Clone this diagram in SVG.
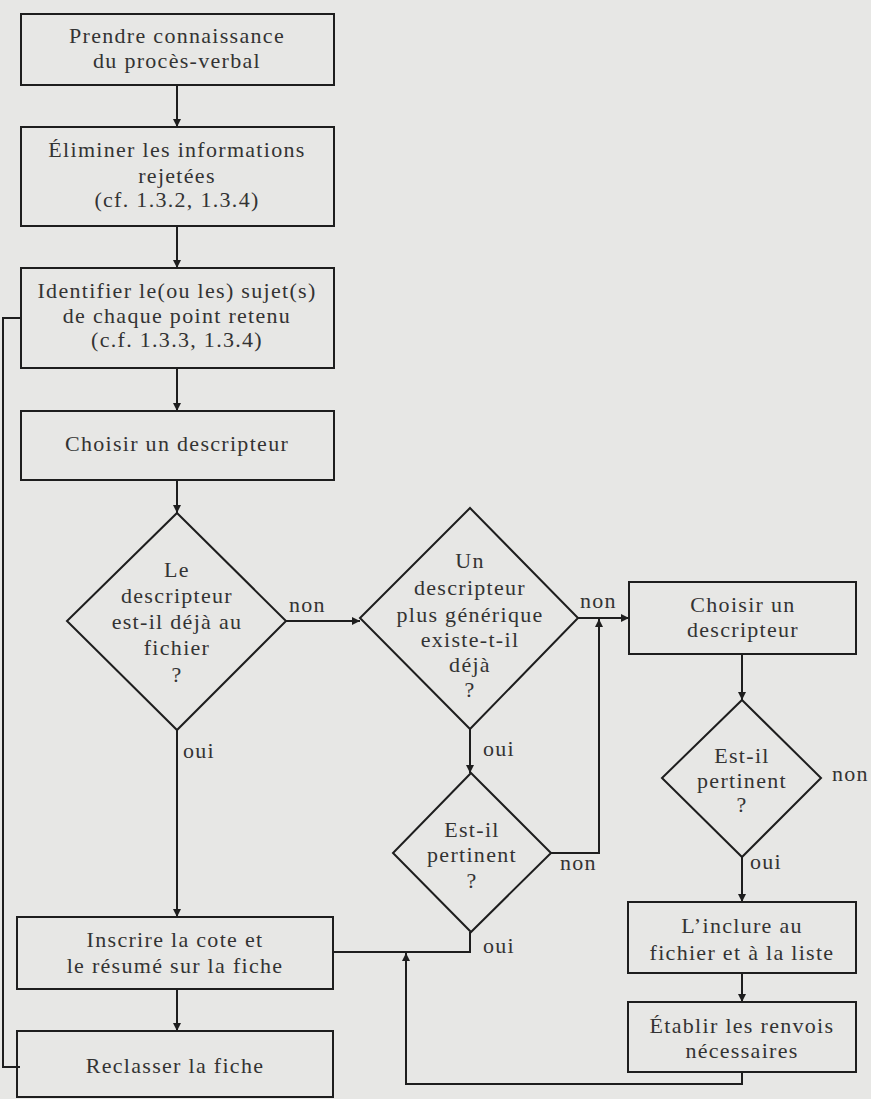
<svg xmlns="http://www.w3.org/2000/svg" width="871" height="1099" viewBox="0 0 871 1099" font-family="'Liberation Serif', 'Times New Roman', serif">
<defs>
<style>
.bg{fill:#e7e7e5}
.box{fill:none;stroke:#1e1e1e;stroke-width:2}
.con{fill:none;stroke:#1e1e1e;stroke-width:2}
text{font-family:'Liberation Serif','Times New Roman',serif;font-size:22px;fill:#333;letter-spacing:1.3px}
.c{text-anchor:middle}
</style>
<marker id="ah" viewBox="0 0 10 10" refX="10" refY="5" markerWidth="9" markerHeight="8" markerUnits="userSpaceOnUse" orient="auto">
<path d="M0,0 L10,5 L0,10 z" fill="#1e1e1e"/>
</marker>
</defs>
<rect class="bg" x="0" y="0" width="871" height="1099"/>
<g id="connectors">
<path class="con" d="M177 85 V127" marker-end="url(#ah)"/>
<path class="con" d="M177 226 V268" marker-end="url(#ah)"/>
<path class="con" d="M177 368 V411" marker-end="url(#ah)"/>
<path class="con" d="M177 480 V513" marker-end="url(#ah)"/>
<path class="con" d="M177 730 V917" marker-end="url(#ah)"/>
<path class="con" d="M177 989 V1031" marker-end="url(#ah)"/>
<path class="con" d="M20 318 H3 V1067 H20"/>
<path class="con" d="M286 621 H360" marker-end="url(#ah)"/>
<path class="con" d="M578 618 H629" marker-end="url(#ah)"/>
<path class="con" d="M470 729 V773" marker-end="url(#ah)"/>
<path class="con" d="M551 853 H599 V619" marker-end="url(#ah)"/>
<path class="con" d="M470 932 V952 H333"/>
<path class="con" d="M742 654 V700" marker-end="url(#ah)"/>
<path class="con" d="M742 857 V902" marker-end="url(#ah)"/>
<path class="con" d="M742 973 V1002" marker-end="url(#ah)"/>
<path class="con" d="M742 1072 V1084 H406 V953" marker-end="url(#ah)"/>
<text x="289" y="612">non</text>
<text x="183" y="758">oui</text>
<text x="580" y="608">non</text>
<text x="483" y="756">oui</text>
<text x="560" y="870">non</text>
<text x="483" y="953">oui</text>
<text x="832" y="781">non</text>
<text x="750" y="869">oui</text>
</g>
<g id="n1">
<rect class="box" x="21" y="14" width="313" height="71"/>
<text class="c" x="177" y="43">Prendre connaissance</text>
<text class="c" x="177" y="68">du procès-verbal</text>
</g>
<g id="n2">
<rect class="box" x="21" y="127" width="313" height="99"/>
<text class="c" x="177" y="157">Éliminer les informations</text>
<text class="c" x="177" y="183">rejetées</text>
<text class="c" x="177" y="207">(cf. 1.3.2, 1.3.4)</text>
</g>
<g id="n3">
<rect class="box" x="21" y="268" width="313" height="100"/>
<text class="c" x="177" y="298">Identifier le(ou les) sujet(s)</text>
<text class="c" x="177" y="323">de chaque point retenu</text>
<text class="c" x="177" y="347">(c.f. 1.3.3, 1.3.4)</text>
</g>
<g id="n4">
<rect class="box" x="21" y="411" width="313" height="69"/>
<text class="c" x="177" y="451">Choisir un descripteur</text>
</g>
<g id="d1">
<polygon class="box" points="177,513 286,621 177,730 67,621"/>
<text class="c" x="177" y="577">Le</text>
<text class="c" x="177" y="603">descripteur</text>
<text class="c" x="177" y="629">est-il déjà au</text>
<text class="c" x="177" y="655">fichier</text>
<text class="c" x="177" y="682">?</text>
</g>
<g id="d2">
<polygon class="box" points="470,508 578,618 470,729 360,618"/>
<text class="c" x="470" y="568">Un</text>
<text class="c" x="470" y="595">descripteur</text>
<text class="c" x="470" y="622">plus générique</text>
<text class="c" x="470" y="647">existe-t-il</text>
<text class="c" x="470" y="672">déjà</text>
<text class="c" x="470" y="697">?</text>
</g>
<g id="d3">
<polygon class="box" points="471,773 551,853 471,932 393,853"/>
<text class="c" x="472" y="837">Est-il</text>
<text class="c" x="472" y="862">pertinent</text>
<text class="c" x="472" y="888">?</text>
</g>
<g id="n5">
<rect class="box" x="629" y="582" width="227" height="72"/>
<text class="c" x="743" y="612">Choisir un</text>
<text class="c" x="743" y="637">descripteur</text>
</g>
<g id="d4">
<polygon class="box" points="742,700 821,778 742,857 662,778"/>
<text class="c" x="742" y="763">Est-il</text>
<text class="c" x="742" y="788">pertinent</text>
<text class="c" x="742" y="812">?</text>
</g>
<g id="n6">
<rect class="box" x="628" y="902" width="228" height="71"/>
<text class="c" x="742" y="933">L’inclure au</text>
<text class="c" x="742" y="960">fichier et à la liste</text>
</g>
<g id="n7">
<rect class="box" x="628" y="1002" width="228" height="70"/>
<text class="c" x="742" y="1033">Établir les renvois</text>
<text class="c" x="742" y="1058">nécessaires</text>
</g>
<g id="n8">
<rect class="box" x="17" y="917" width="316" height="72"/>
<text class="c" x="175" y="947">Inscrire la cote et</text>
<text class="c" x="175" y="973">le résumé sur la fiche</text>
</g>
<g id="n9">
<rect class="box" x="17" y="1031" width="316" height="66"/>
<text class="c" x="175" y="1073">Reclasser la fiche</text>
</g>
</svg>
